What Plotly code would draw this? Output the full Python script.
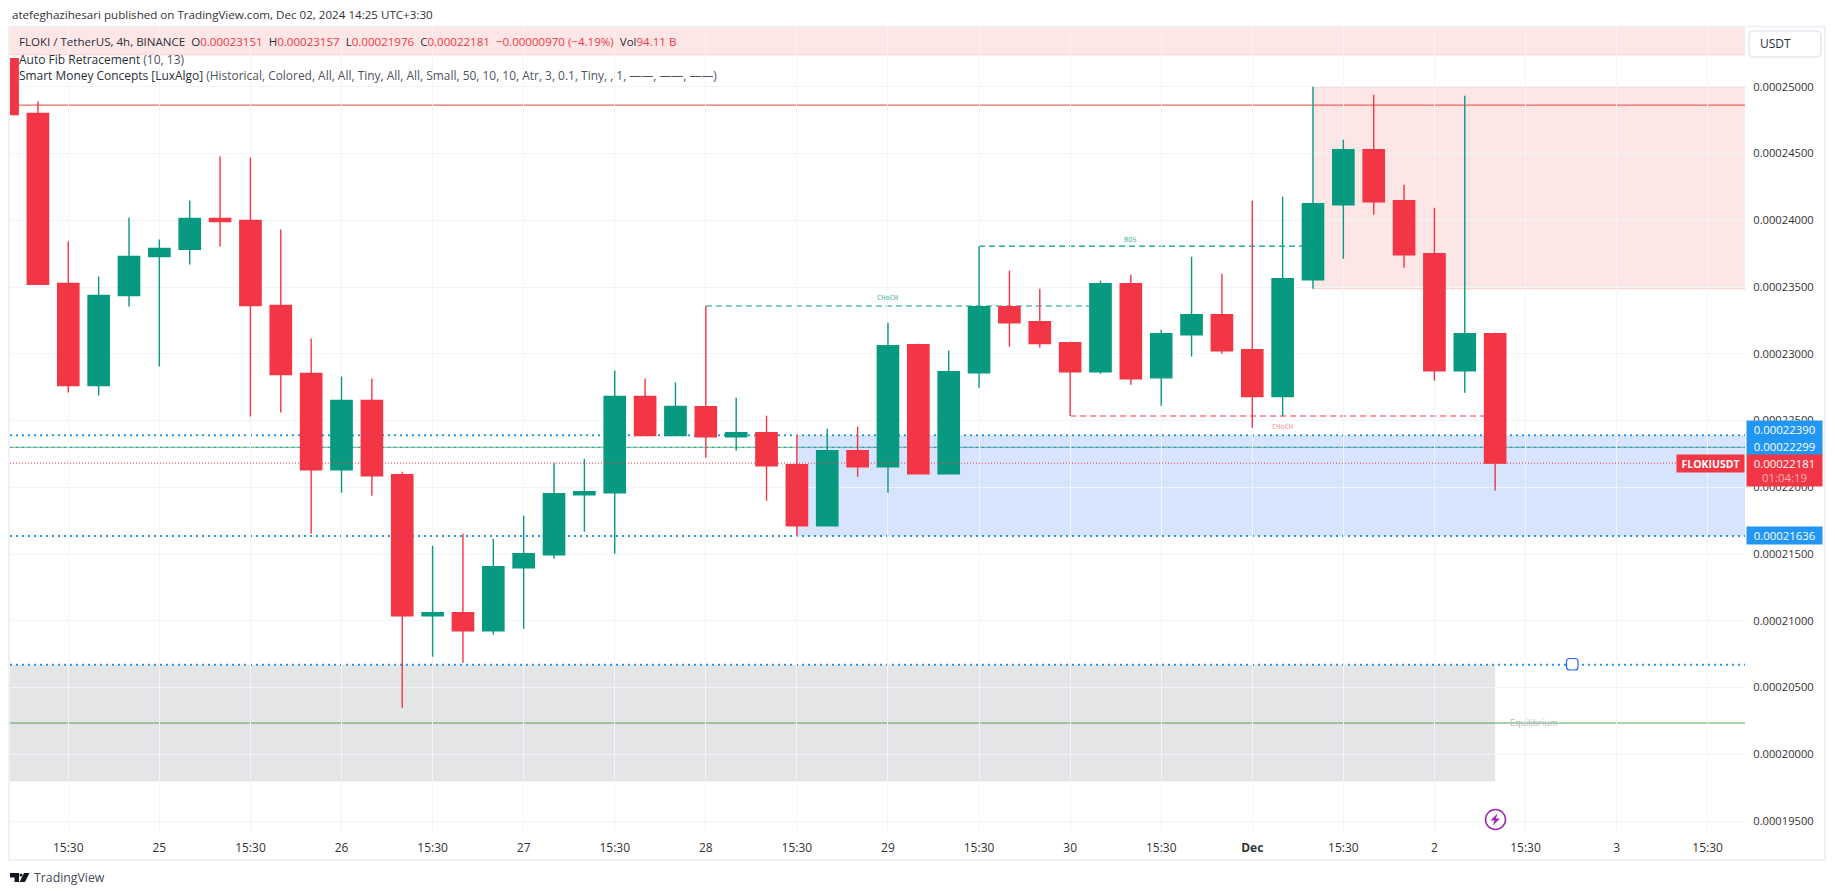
import pandas as pd
import plotly.graph_objects as go

W, H = 1835, 895
L, R, T, B = 10, 1745, 27, 832
SCALE = 1e-6

START = "2024-11-24 07:30"
OPEN = [252.10,248.00,235.27,227.63,234.37,237.29,237.82,240.14,239.99,233.62,
        228.53,221.31,226.50,220.94,210.38,210.60,209.25,213.97,214.95,219.44,
        219.59,226.80,223.88,226.04,223.79,224.09,221.69,217.12,222.74,221.54,
        230.68,221.02,228.58,233.53,232.40,230.83,228.66,235.25,228.20,231.43,
        232.93,230.31,226.79,235.55,241.16,245.28,241.46,237.49,228.73,231.51]
HIGH = [252.10,248.90,238.41,235.79,240.21,238.56,241.49,244.78,244.71,239.31,
        231.15,228.30,228.15,221.17,215.62,216.52,216.15,217.87,221.84,222.14,
        228.75,228.15,227.85,233.58,226.71,225.36,223.94,224.39,224.54,232.33,
        230.76,230.23,238.07,236.22,234.88,230.90,235.47,235.92,231.80,237.27,
        236.00,241.46,241.76,250.00,246.03,249.40,242.66,240.94,249.33,231.57]
LOW = [247.93,235.20,227.10,226.88,233.55,229.05,236.69,238.04,225.31,225.61,
       216.52,219.59,219.37,203.49,207.31,206.86,208.95,209.40,214.65,216.67,
       215.02,223.88,223.88,222.22,222.74,219.00,216.37,217.12,220.79,219.59,
       221.02,221.02,227.46,230.53,230.46,225.34,228.51,227.68,226.11,229.79,
       230.00,224.46,225.34,234.87,237.12,240.42,236.45,227.98,227.08,219.76]
CLOSE = [247.93,235.20,227.63,234.37,237.29,237.89,240.14,239.91,233.62,228.45,
         221.31,226.50,220.86,210.38,210.60,209.25,214.05,215.02,219.52,219.67,
         226.80,223.88,226.05,223.79,224.09,221.62,217.12,222.74,221.54,230.61,
         221.02,228.66,233.53,232.33,230.76,228.66,235.25,228.13,231.50,232.93,
         230.23,226.79,235.62,241.24,245.28,241.39,237.42,228.73,231.50,221.81]
TICK_LABELS = ["15:30","25","15:30","26","15:30","27","15:30","28","15:30","29","15:30",
               "30","15:30","<b>Dec</b>","15:30","2","15:30","3","15:30"]

LEVEL_RED = 248.63
LEVEL_GREEN = 223.00
LEVEL_EQ = 202.34
DOTTED_LEVELS = [223.90, 222.99, 216.36, 206.71]
LAST_PRICE = 221.81
ZONE_TOP_BAND = 252.40
ZONE_PINK = (250.00, 234.87)
ZONE_BLUE = (223.90, 216.36)
ZONE_GRAY = (206.71, 197.97)
BOS_LEVEL = 238.07
CHOCH_UP_LEVEL = 233.58
CHOCH_DN_LEVEL = 225.34

times = pd.date_range(START, periods=len(OPEN) + 10, freq="4h")
ts = [t.strftime("%Y-%m-%d %H:%M") for t in times]
def bar(i):
    return ts[i + 2]
def shifted(i):
    return (times[0] + pd.Timedelta(hours=4) * (i + 2)).strftime("%Y-%m-%d %H:%M:%S")
def scaled(v):
    return [x * SCALE for x in v]
def fx(p):
    return (p - L) / (R - L)
def fy(p):
    return 1 - (p - T) / (B - T)

GREEN, RED, BLUE = "#089981", "#F23645", "#2196F3"
FONT = "Open Sans, sans-serif"
GRID = "#f3f4f7"
TEXT = "#2a2e39"

fig = go.Figure()
fig.add_trace(go.Candlestick(
    x=ts[:len(OPEN)], open=scaled(OPEN), high=scaled(HIGH), low=scaled(LOW), close=scaled(CLOSE),
    whiskerwidth=0,
    increasing=dict(line=dict(color=GREEN, width=1.4), fillcolor=GREEN),
    decreasing=dict(line=dict(color=RED, width=1.4), fillcolor=RED),
    showlegend=False, hoverinfo="skip",
))

shapes = []
def zone(x0, x1, y0, y1, fill, xref="x"):
    shapes.append(dict(type="rect", layer="below", xref=xref, yref="y", x0=x0, x1=x1,
                       y0=y0 * SCALE, y1=y1 * SCALE, fillcolor=fill, line_width=0))
def hline(x0, x1, y, color, width=1, dash="solid", xref="x", layer="below"):
    shapes.append(dict(type="line", layer=layer, xref=xref, yref="y", x0=x0, x1=x1,
                       y0=y * SCALE, y1=y * SCALE, line=dict(color=color, width=width, dash=dash)))

PINK = "rgba(236,60,60,0.13)"
PINK_EDGE = "rgba(240,60,60,0.2)"
zone(0, 1, ZONE_TOP_BAND, 256, PINK, "paper")
hline(0, 1, ZONE_TOP_BAND, PINK_EDGE, xref="paper")
zone(bar(41), shifted(56), ZONE_PINK[1], ZONE_PINK[0], PINK)
hline(bar(41), shifted(56), ZONE_PINK[0], PINK_EDGE)
hline(bar(41), shifted(56), ZONE_PINK[1], PINK_EDGE)
zone(bar(24), shifted(56), ZONE_BLUE[1], ZONE_BLUE[0], "rgba(50,120,245,0.2)")
zone(shifted(-3), bar(47), ZONE_GRAY[1], ZONE_GRAY[0], "rgba(120,123,134,0.2)")
hline(0, 1, LEVEL_RED, "#F44336", xref="paper")
hline(0, 1, LEVEL_GREEN, "#66BB6A", 1.2, xref="paper")
hline(0, 1, LEVEL_EQ, "#4CAF50", xref="paper")
for k, lv in enumerate(DOTTED_LEVELS):
    hline(0, 1, lv, BLUE, 1 if k == 1 else 2, "2px,4px", xref="paper")
hline(bar(21), bar(34), CHOCH_UP_LEVEL, GREEN, 1.2, "6px,4px")
hline(bar(30), bar(41), BOS_LEVEL, GREEN, 1.2, "6px,4px")
hline(bar(33), bar(47), CHOCH_DN_LEVEL, RED, 1.2, "6px,4px")
hline(0, fx(1678), LAST_PRICE, RED, 1, "1px,2px", xref="paper", layer="above")

def rrect(x0, y0, x1, y1, r):
    pts = lambda x, y: f"{fx(x):.6f},{fy(y):.6f}"
    return (f"M{pts(x0+r,y0)} L{pts(x1-r,y0)} Q{pts(x1,y0)} {pts(x1,y0+r)} L{pts(x1,y1-r)} "
            f"Q{pts(x1,y1)} {pts(x1-r,y1)} L{pts(x0+r,y1)} Q{pts(x0,y1)} {pts(x0,y1-r)} "
            f"L{pts(x0,y0+r)} Q{pts(x0,y0)} {pts(x0+r,y0)} Z")
def poly(points):
    return "M" + " L".join(f"{fx(x):.6f},{fy(y):.6f}" for x, y in points) + " Z"

# chart frame
shapes.append(dict(type="rect", xref="paper", yref="paper", x0=fx(9), x1=fx(1825), y0=fy(860), y1=fy(26.5),
                   line=dict(color="#eff1f6", width=2), layer="below"))
# scale-mode button
shapes.append(dict(type="path", xref="paper", yref="paper", path=rrect(1749, 31, 1821, 57, 5),
                   line=dict(color="#e6e8f0", width=1.5), fillcolor="white"))
# drawing handle
shapes.append(dict(type="path", xref="paper", yref="paper", path=rrect(1566.5, 658.5, 1578, 670, 3),
                   line=dict(color="#2962FF", width=1.2), fillcolor="white"))
# lightning badge
shapes.append(dict(type="circle", xref="paper", yref="paper", x0=fx(1485.5), x1=fx(1505.5),
                   y0=fy(829.5), y1=fy(809.5), line=dict(color="#9C27B0", width=1.5), fillcolor="white"))
shapes.append(dict(type="path", xref="paper", yref="paper", line_width=0, fillcolor="#9C27B0",
                   path=poly([(1497.5, 813.5), (1490.5, 820.5), (1494.5, 820.5), (1493, 825.5),
                              (1500, 818.5), (1496, 818.5)])))
# TradingView logo
shapes.append(dict(type="path", xref="paper", yref="paper", line_width=0, fillcolor="#131722",
                   path=poly([(10, 873), (19, 873), (19, 882), (14.5, 882), (14.5, 877.5), (10, 877.5)])))
shapes.append(dict(type="circle", xref="paper", yref="paper", x0=fx(19.5), x1=fx(22.5), y0=fy(876.5), y1=fy(873.5),
                   line_width=0, fillcolor="#131722"))
shapes.append(dict(type="path", xref="paper", yref="paper", line_width=0, fillcolor="#131722",
                   path=poly([(24, 873), (29.5, 873), (25, 882), (19.5, 882)])))

def note(px, py, text, size=12, color=TEXT, anchor="left", family=FONT, **kw):
    return dict(xref="paper", yref="paper", x=fx(px), y=fy(py), text=text, showarrow=False,
                xanchor=anchor, yanchor="middle", align=anchor,
                font=dict(family=family, size=size, color=color), **kw)
def data_note(i, price, text, color, size=7):
    return dict(xref="x", yref="paper", x=bar(i), y=fy(price), text=text, showarrow=False,
                font=dict(family="DejaVu Sans Mono, monospace", size=size, color=color))
def tag(price, text, bg=BLUE, yshift=0, width=75, height=17, anchor="left", xshift=1, size=11.4):
    return dict(xref="paper", yref="y", x=1, y=price * SCALE, xshift=xshift, yshift=yshift,
                text=text, showarrow=False, xanchor=anchor, yanchor="middle", align="center",
                width=width, height=height, bgcolor=bg, borderpad=0, valign="middle",
                font=dict(family=FONT, size=size, color="white"))

def val(s):
    return f'<span style="color:#F23645">{s}</span>'
legend_line = ("FLOKI / TetherUS, 4h, BINANCE  O" + val("0.00023151") + "  H" + val("0.00023157") +
               "  L" + val("0.00021976") + "  C" + val("0.00022181") + "  " +
               val("−0.00000970 (−4.19%)") + "  Vol" + val("94.11 B"))
annotations = [
    note(10, 15, "atefeghazihesari published on TradingView.com, Dec 02, 2024 14:25 UTC+3:30", 11.6, "#333333"),
    note(17, 41.5, legend_line, 11.55),
    note(17, 59, 'Auto Fib Retracement <span style="color:#50535e">(10, 13)</span>', 12),
    note(17, 76, 'Smart Money Concepts [LuxAlgo] <span style="color:#50535e">(Historical, Colored, All, All, Tiny, '
                 'All, All, Small, 50, 10, 10, Atr, 3, 0.1, Tiny, , 1, ——, ——, ——)</span>', 11.95),
    note(1758, 44, "USDT", 12, "#2a2e39"),
    note(31.5, 877.5, "TradingView", 12.3, "#444a57"),
    note(1507.5, 722.7, "Equilibrium", 9, "#b7b9c0"),
    data_note(27, 292, "CHoCH", "#4fb3a0"),
    data_note(35, 233.7, "BOS", "#4fb3a0"),
    data_note(40, 427.3, "CHoCH", "#f7929b"),
    tag(DOTTED_LEVELS[0], "0.00022390", yshift=5.3),
    tag(DOTTED_LEVELS[1], "0.00022299", yshift=1.2),
    tag(DOTTED_LEVELS[2], "0.00021636"),
    tag(LAST_PRICE, '0.00022181<br><span style="color:#fbb4ba">01:04:19</span>', bg=RED, yshift=-7, height=31),
    tag(LAST_PRICE, "<b>FLOKIUSDT</b>", bg=RED, width=67, anchor="right", xshift=0, yshift=0, size=10.5),
]

fig.update_layout(
    width=W, height=H, autosize=False,
    margin=dict(l=L, r=W - R, t=T, b=H - B, pad=0),
    paper_bgcolor="white", plot_bgcolor="white",
    boxgap=0, hovermode=False, showlegend=False,
    shapes=shapes, annotations=annotations,
    font=dict(family=FONT, size=12, color="#333333"),
    xaxis=dict(type="date", range=[shifted(-1.92), shifted(55.23)], rangeslider_visible=False,
               tickvals=[bar(i) for i in range(0, 55, 3)], ticktext=TICK_LABELS,
               showgrid=True, gridcolor=GRID, gridwidth=1, zeroline=False, showline=False,
               ticks="outside", ticklen=5, tickcolor="rgba(0,0,0,0)",
               tickfont=dict(family=FONT, size=12, color="#333333")),
    yaxis=dict(side="right", range=[194.18 * SCALE, 254.48 * SCALE], tick0=0, dtick=5 * SCALE,
               tickformat=".8f", showgrid=True, gridcolor=GRID, gridwidth=1, zeroline=False, showline=False,
               ticks="outside", ticklen=5, tickcolor="rgba(0,0,0,0)",
               tickfont=dict(family=FONT, size=11.2, color="#333333")),
)

fig.write_html("out.html", config=dict(displayModeBar=False),
               post_script="document.body.style.margin='0';document.body.style.overflow='hidden';")
